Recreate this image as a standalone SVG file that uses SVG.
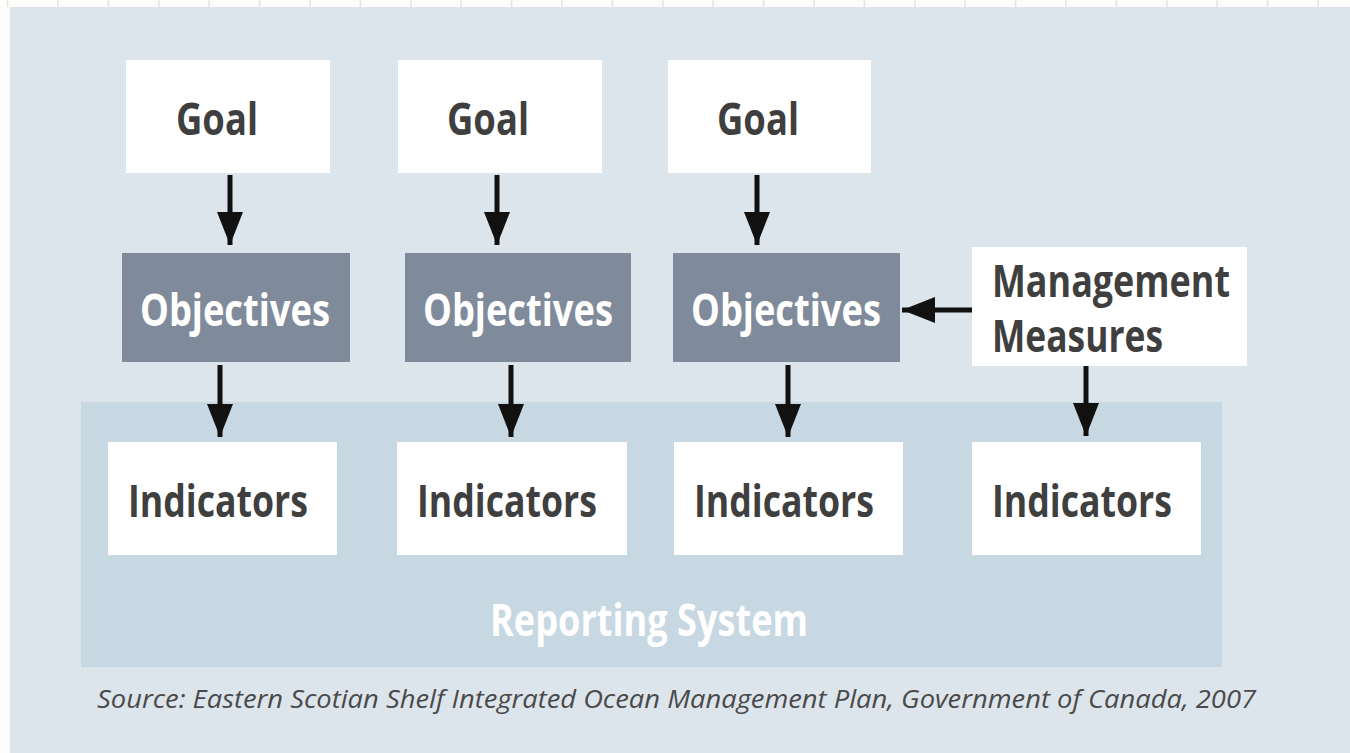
<svg xmlns="http://www.w3.org/2000/svg" width="1350" height="753" viewBox="0 0 1350 753">
<defs>
<style>
.bg{fill:#dde5ec}
.rep{fill:#c7d8e3}
.wbox{fill:#ffffff}
.obox{fill:#7f8b9b}
.lbl{font-family:"Open Sans","Noto Sans","Liberation Sans",sans-serif;font-weight:700;font-size:44px;fill:#3f3f3f}
.wlbl{font-family:"Open Sans","Noto Sans","Liberation Sans",sans-serif;font-weight:700;font-size:44px;fill:#ffffff}
.src{font-family:"Open Sans","Noto Sans","Liberation Sans",sans-serif;font-style:italic;font-size:26px;fill:#4a4a4a}
.conn{stroke:#111111;stroke-width:5;fill:none;marker-end:url(#ah)}
</style>
<marker id="ah" viewBox="0 0 33 26" refX="33" refY="13" markerWidth="33" markerHeight="26" markerUnits="userSpaceOnUse" orient="auto">
<path d="M0,0 L33,13 L0,26 z" fill="#111111"/>
</marker>
</defs>
<rect x="0" y="0" width="1350" height="753" fill="#fdfdfb"/>
<path d="M7.6,0V7 M58,0V7 M108.4,0V7 M158.8,0V7 M209.2,0V7 M259.6,0V7 M310,0V7 M360.4,0V7 M410.8,0V7 M461.2,0V7 M511.6,0V7 M562,0V7 M612.4,0V7 M662.8,0V7 M713.2,0V7 M763.6,0V7 M814,0V7 M864.4,0V7 M914.8,0V7 M965.2,0V7 M1015.6,0V7 M1066,0V7 M1116.4,0V7 M1166.8,0V7 M1217.2,0V7 M1267.6,0V7 M1318,0V7" stroke="#e6e6dc" stroke-width="1.5"/>
<rect class="bg" x="10" y="7" width="1340" height="746"/>
<g id="reporting-system">
<rect class="rep" x="81" y="402" width="1141" height="265"/>
<text class="wlbl" x="649" y="636" text-anchor="middle" textLength="318" lengthAdjust="spacingAndGlyphs">Reporting System</text>
</g>
<g id="goal-1">
<rect class="wbox" x="126" y="60" width="204" height="113"/>
<text class="lbl" x="217" y="135" text-anchor="middle" textLength="82" lengthAdjust="spacingAndGlyphs">Goal</text>
</g>
<g id="goal-2">
<rect class="wbox" x="398" y="60" width="204" height="113"/>
<text class="lbl" x="488" y="135" text-anchor="middle" textLength="82" lengthAdjust="spacingAndGlyphs">Goal</text>
</g>
<g id="goal-3">
<rect class="wbox" x="668" y="60" width="203" height="113"/>
<text class="lbl" x="758" y="135" text-anchor="middle" textLength="82" lengthAdjust="spacingAndGlyphs">Goal</text>
</g>
<g id="objectives-1">
<rect class="obox" x="122" y="253" width="228" height="109"/>
<text class="wlbl" x="235" y="326" text-anchor="middle" textLength="190" lengthAdjust="spacingAndGlyphs">Objectives</text>
</g>
<g id="objectives-2">
<rect class="obox" x="405" y="253" width="226" height="109"/>
<text class="wlbl" x="518" y="326" text-anchor="middle" textLength="190" lengthAdjust="spacingAndGlyphs">Objectives</text>
</g>
<g id="objectives-3">
<rect class="obox" x="673" y="253" width="227" height="109"/>
<text class="wlbl" x="786" y="326" text-anchor="middle" textLength="190" lengthAdjust="spacingAndGlyphs">Objectives</text>
</g>
<g id="management-measures">
<rect class="wbox" x="972" y="247" width="275" height="119"/>
<text class="lbl" x="992" y="297" textLength="238" lengthAdjust="spacingAndGlyphs">Management</text>
<text class="lbl" x="992" y="352" textLength="171" lengthAdjust="spacingAndGlyphs">Measures</text>
</g>
<g id="indicators-1">
<rect class="wbox" x="108" y="442" width="229" height="113"/>
<text class="lbl" x="218" y="517" text-anchor="middle" textLength="180" lengthAdjust="spacingAndGlyphs">Indicators</text>
</g>
<g id="indicators-2">
<rect class="wbox" x="397" y="442" width="230" height="113"/>
<text class="lbl" x="507" y="517" text-anchor="middle" textLength="180" lengthAdjust="spacingAndGlyphs">Indicators</text>
</g>
<g id="indicators-3">
<rect class="wbox" x="674" y="442" width="229" height="113"/>
<text class="lbl" x="784" y="517" text-anchor="middle" textLength="180" lengthAdjust="spacingAndGlyphs">Indicators</text>
</g>
<g id="indicators-4">
<rect class="wbox" x="972" y="442" width="229" height="113"/>
<text class="lbl" x="1082" y="517" text-anchor="middle" textLength="180" lengthAdjust="spacingAndGlyphs">Indicators</text>
</g>
<g id="connectors">
<line class="conn" x1="230" y1="175" x2="230" y2="245"/>
<line class="conn" x1="497" y1="175" x2="497" y2="245"/>
<line class="conn" x1="757" y1="175" x2="757" y2="245"/>
<line class="conn" x1="220" y1="365" x2="220" y2="437"/>
<line class="conn" x1="511" y1="365" x2="511" y2="437"/>
<line class="conn" x1="788" y1="365" x2="788" y2="437"/>
<line class="conn" x1="1086" y1="366" x2="1086" y2="436"/>
<line class="conn" x1="972" y1="310" x2="902" y2="310"/>
</g>
<text class="src" x="97" y="708" textLength="1159" lengthAdjust="spacingAndGlyphs">Source: Eastern Scotian Shelf Integrated Ocean Management Plan, Government of Canada, 2007</text>
</svg>
